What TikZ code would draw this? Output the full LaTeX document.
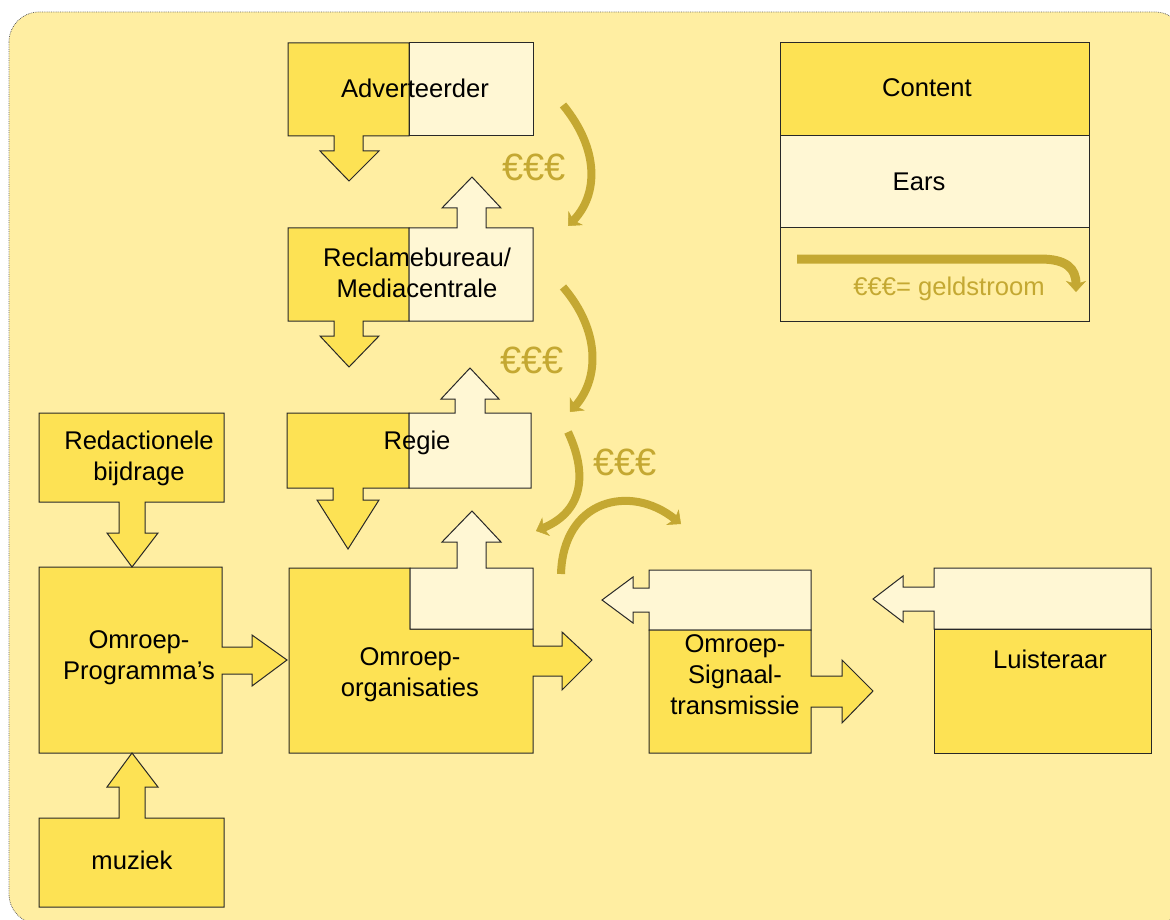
\documentclass[tikz,border=0pt]{standalone}
\usepackage{fontspec}
\setmainfont{Liberation Sans}
\usetikzlibrary{arrows.meta}
\definecolor{bgc}{RGB}{255,238,162}
\definecolor{darkc}{RGB}{253,226,84}
\definecolor{lightc}{RGB}{255,247,212}
\definecolor{goldc}{RGB}{196,168,50}
\definecolor{linec}{RGB}{40,40,40}
\tikzset{
  darkpart/.style={fill=darkc,draw=linec,line width=1pt,line join=miter},
  lightpart/.style={fill=lightc,draw=linec,line width=1pt,line join=miter},
  lbl/.style={inner sep=0pt,align=center,font=\fontsize{25.6}{31}\selectfont},
  money/.style={inner sep=0pt,text=goldc,font=\fontsize{38}{44}\selectfont},
  flow/.style={draw=goldc,line width=8pt,-{Stealth[length=11pt,width=20pt,inset=3pt,line width=0.5pt]}},
}
\begin{document}
\begin{tikzpicture}[x=1pt,y=-1pt]
\useasboundingbox (0,0) rectangle (1170,920);
\begin{scope}
\clip (0,0) rectangle (1170,920);
\draw[fill=bgc,draw=black!60,line width=0.8pt,densely dotted,rounded corners=30pt] (9,12) rectangle (1185,924);
\end{scope}

% Adverteerder
\draw[darkpart] (288,43) -- (409,43) -- (409,136) -- (363,136) -- (363,151) -- (379,151) -- (349,181) -- (320,151) -- (334,151) -- (334,136) -- (288,136) -- cycle;
\draw[lightpart] (409,43) rectangle (533,136);
\node[lbl] (adv) at (415,88) {Adverteerder};

% Reclamebureau
\draw[darkpart] (288,228) -- (409,228) -- (409,321) -- (363,321) -- (363,336) -- (379,336) -- (349,367) -- (320,336) -- (334,336) -- (334,321) -- (288,321) -- cycle;
\draw[lightpart] (409,228) -- (457,228) -- (457,208) -- (442,208) -- (472,177) -- (501,208) -- (486,208) -- (486,228) -- (533,228) -- (533,321) -- (409,321) -- cycle;
\node[lbl] (rec) at (417,273) {Reclamebureau/\\Mediacentrale};

% Regie
\draw[darkpart] (287,413) -- (409,413) -- (409,488) -- (363,488) -- (363,500) -- (379,500) -- (348,549) -- (317,500) -- (333,500) -- (333,488) -- (287,488) -- cycle;
\draw[lightpart] (409,413) -- (455,413) -- (455,399) -- (441,399) -- (470,368) -- (499,399) -- (485,399) -- (485,413) -- (531,413) -- (531,488) -- (409,488) -- cycle;
\node[lbl] (reg) at (417,443) {Regie};

% Omroep-organisaties
\draw[darkpart] (289,568) -- (410,568) -- (410,629) -- (533,629) -- (533,646) -- (562,646) -- (562,632) -- (592,660) -- (562,690) -- (562,676) -- (533,676) -- (533,753) -- (289,753) -- cycle;
\draw[lightpart] (410,568) -- (457,568) -- (457,542) -- (442,542) -- (472,511) -- (501,542) -- (486,542) -- (486,568) -- (533,568) -- (533,629) -- (410,629) -- cycle;
\node[lbl] (org) at (410,675) {Omroep-\\organisaties};

% Omroep-Programma's
\draw[darkpart] (39,567) -- (222,567) -- (222,647) -- (252,647) -- (252,635) -- (287,660) -- (252,686) -- (252,674) -- (222,674) -- (222,753) -- (39,753) -- cycle;
\node[lbl] (prog) at (139,658) {Omroep-\\Programma’s};

% Redactionele bijdrage
\draw[darkpart] (39,413) -- (224,413) -- (224,502) -- (145,502) -- (145,533) -- (158,533) -- (132,567) -- (107,533) -- (119,533) -- (119,502) -- (39,502) -- cycle;
\node[lbl] (red) at (139,458) {Redactionele\\bijdrage};

% muziek
\draw[darkpart] (39,818) -- (119,818) -- (119,787) -- (107,787) -- (132,753) -- (158,787) -- (145,787) -- (145,818) -- (224,818) -- (224,907) -- (39,907) -- cycle;
\node[lbl] (muz) at (132,860) {muziek};

% Omroep-Signaal-transmissie
\draw[lightpart] (649,570) -- (811,570) -- (811,630) -- (649,630) -- (649,612) -- (633,612) -- (633,623) -- (602,600) -- (633,577) -- (633,588) -- (649,588) -- cycle;
\draw[darkpart] (649,630) -- (811,630) -- (811,676) -- (842,676) -- (842,660) -- (873,691) -- (842,723) -- (842,707) -- (811,707) -- (811,753) -- (649,753) -- cycle;
\node[lbl] (sig) at (735,675) {Omroep-\\Signaal-\\transmissie};

% Luisteraar
\draw[lightpart] (934,568) -- (1151,568) -- (1151,629) -- (934,629) -- (934,611) -- (903,611) -- (903,622) -- (873,599) -- (903,576) -- (903,587) -- (934,587) -- cycle;
\draw[darkpart] (934,629) rectangle (1151,753);
\node[lbl] (lui) at (1050,659) {Luisteraar};

% Legend
\draw[darkpart] (780,43) rectangle (1089,136);
\draw[lightpart] (780,136) rectangle (1089,228);
\draw[draw=linec,line width=1pt] (780,228) rectangle (1089,321);
\node[lbl] (con) at (927,88) {Content};
\node[lbl] (ear) at (919,182) {Ears};
\coordinate (lg1) at (797,259);
\coordinate (lg2) at (1076,292);
\draw[flow,line width=9pt] (lg1) -- (1040,259) .. controls (1066,259) and (1076,268) .. (lg2);
\node[lbl,text=goldc] (geld) at (949,289) {€€€= geldstroom};

% money flows
\coordinate (f1a) at (563,105); \coordinate (f1b) at (568,226);
\draw[flow] (f1a) .. controls (600,150) and (598,195) .. (f1b);
\node[money] (m1) at (534,167) {€€€};
\coordinate (f2a) at (563,287); \coordinate (f2b) at (570,412);
\draw[flow] (f2a) .. controls (600,330) and (600,378) .. (f2b);
\node[money] (m2) at (532,360) {€€€};
\coordinate (f3a) at (568,432); \coordinate (f3b) at (536,531);
\draw[flow] (f3a) .. controls (586,470) and (586,510) .. (f3b);
\node[money] (m3) at (625,462) {€€€};
\coordinate (f4a) at (561,574); \coordinate (f4b) at (681,524);
\draw[flow] (f4a) .. controls (563,500) and (630,483) .. (f4b);
\end{tikzpicture}
\end{document}
